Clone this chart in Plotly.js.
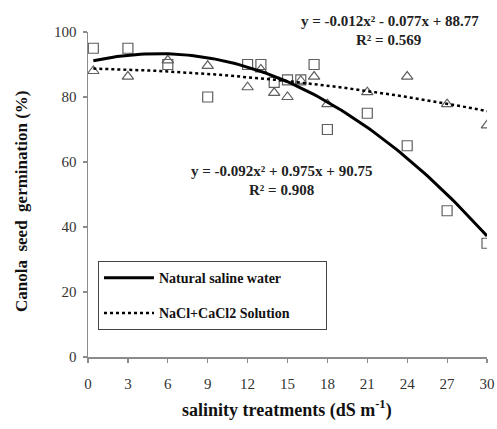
<!DOCTYPE html>
<html>
<head>
<meta charset="utf-8">
<script src="https://cdn.plot.ly/plotly-3.0.1.min.js"></script>
<style>html,body{margin:0;padding:0;background:#fff}#chart{width:497px;height:429px}</style>
</head>
<body>
<div id="chart"></div>
<script>
// Observed data (salinity dS/m vs germination %)
var salinity = [0.4, 3, 6, 9, 12, 13, 14, 15, 16, 17, 18, 21, 24, 27, 30];
var naturalSaline = [95, 95, 90, 80, 90, 90, 84.5, 85.3, 85.3, 90, 70, 75, 65, 45, 35];
var naclCacl2 = [88, 86.3, 91.3, 89.6, 83, 88.5, 81.3, 80, 85, 86.3, 77.8, 81.5, 86.3, 77.8, 71.3];

// Trendline coefficients as printed on the chart [a, b, c] for y = a x^2 + b x + c
var fitNatural = [-0.092, 0.975, 90.75];
var fitNacl = [-0.012, -0.077, 88.77];

var xTicks = [0, 3, 6, 9, 12, 15, 18, 21, 24, 27, 30];
var yTicks = [0, 20, 40, 60, 80, 100];
var seriesNames = ['Natural saline water', 'NaCl+CaCl2 Solution'];

function trend(coef, xs) {
  var xmin = Math.min.apply(null, xs), xmax = Math.max.apply(null, xs);
  var X = [], Y = [];
  for (var i = 0; i <= 100; i++) {
    var x = xmin + (xmax - xmin) * i / 100;
    X.push(x);
    Y.push(coef[0] * x * x + coef[1] * x + coef[2]);
  }
  return {x: X, y: Y};
}
var tN = trend(fitNatural, salinity);
var tC = trend(fitNacl, salinity);

var serif = "'Liberation Serif', 'Times New Roman', serif";
var pad = '\u00a0\u00a0\u00a0\u00a0\u00a0\u00a0\u00a0\u00a0\u00a0';

var traces = [
  {x: salinity, y: naturalSaline, mode: 'markers', type: 'scatter', showlegend: false,
   marker: {symbol: 'square-open', size: 10, color: '#5f5f5f', line: {width: 1.2}}},
  {x: salinity, y: naclCacl2, mode: 'markers', type: 'scatter', showlegend: false,
   marker: {symbol: 'triangle-up-open', size: 10, color: '#5f5f5f', line: {width: 1.2}}},
  {x: tN.x, y: tN.y, mode: 'lines', type: 'scatter', name: seriesNames[0] + pad + '\u00a0\u00a0', legendgroup: 'a',
   line: {color: '#000', width: 3}},
  {x: tC.x, y: tC.y, mode: 'lines', type: 'scatter', name: seriesNames[1] + pad, legendgroup: 'b',
   line: {color: '#000', width: 2.5, dash: 'dot'}}
];

function ann(px, py, text, size) {
  return {xref: 'paper', yref: 'paper', x: (px - 88) / 399, y: (357 - py) / 325,
          xanchor: 'center', yanchor: 'middle', showarrow: false,
          text: text, font: {family: serif, size: size, color: '#222'}};
}

var layout = {
  width: 497, height: 429,
  margin: {l: 88, r: 10, t: 32, b: 72, pad: 0},
  paper_bgcolor: '#fff', plot_bgcolor: '#fff',
  font: {family: serif, color: '#222', size: 14},
  xaxis: {
    range: [0, 30], tickvals: xTicks, ticktext: xTicks.map(String),
    showgrid: false, zeroline: false, showline: true, linecolor: '#8c8c8c', linewidth: 1.5,
    ticks: 'outside', ticklen: 4, tickcolor: '#8c8c8c', tickwidth: 1.2,
    ticklabelstandoff: 8,
    tickfont: {family: serif, size: 15, color: '#333'}
  },
  yaxis: {
    range: [0, 100], tickvals: yTicks, ticktext: yTicks.map(String),
    showgrid: false, zeroline: false, showline: true, linecolor: '#8c8c8c', linewidth: 1.5,
    ticks: 'outside', ticklen: 4, tickcolor: '#8c8c8c', tickwidth: 1.2,
    ticklabelstandoff: 3,
    tickfont: {family: serif, size: 15, color: '#333'}
  },
  showlegend: true,
  legend: {
    x: 0.025, y: 0.295, xanchor: 'left', yanchor: 'top',
    bordercolor: '#444', borderwidth: 1, bgcolor: '#fff',
    font: {family: serif, size: 14, color: '#111', weight: 'bold'},
    itemwidth: 50, tracegroupgap: 14, traceorder: 'grouped'
  },
  annotations: [
    ann(390, 21, '<b>y = -0.012x² - 0.077x + 88.77</b>', 15),
    ann(388, 40, '<b>R² = 0.569</b>', 15),
    ann(281, 171, '<b>y = -0.092x² + 0.975x + 90.75</b>', 15),
    ann(281, 190, '<b>R² = 0.908</b>', 15),
    {xref: 'paper', yref: 'paper', x: (287 - 88) / 399, y: (357 - 409) / 325,
     xanchor: 'center', yanchor: 'middle', showarrow: false,
     text: '<b>salinity treatments (dS m<sup>-1</sup>)</b>', font: {family: serif, size: 18, color: '#111'}},
    {xref: 'paper', yref: 'paper', x: (22 - 88) / 399, y: (357 - 202) / 325,
     xanchor: 'center', yanchor: 'middle', showarrow: false, textangle: -90,
     text: '<b>Canola  seed  germination (%)</b>', font: {family: serif, size: 17, color: '#111'}}
  ]
};

Plotly.newPlot('chart', traces, layout, {staticPlot: true, displayModeBar: false});
</script>
</body>
</html>
